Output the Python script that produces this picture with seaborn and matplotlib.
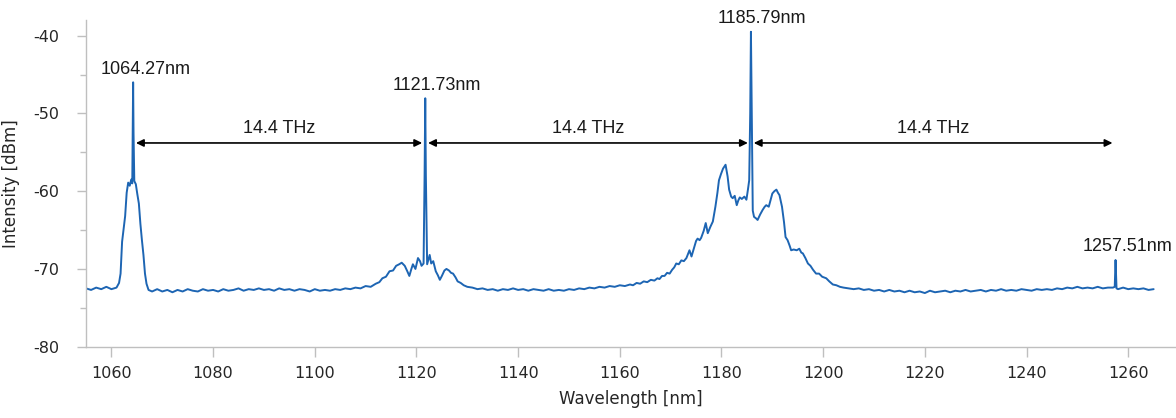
import matplotlib
matplotlib.use("Agg")
import matplotlib.pyplot as plt
import seaborn as sns

# ---------------- data ----------------
wavelength_nm = [
    1055.0, 1056.0, 1057.0, 1058.0, 1059.0, 1060.0, 1061.0, 1061.5, 1061.8, 1062.1,
    1062.4, 1062.7, 1063.0, 1063.3, 1063.6, 1063.9, 1064.1, 1064.2, 1064.27, 1064.35,
    1064.5, 1064.8, 1065.1, 1065.4, 1065.7, 1066.0, 1066.3, 1066.6, 1066.9, 1067.3,
    1068, 1069, 1070, 1071, 1072, 1073, 1074, 1075, 1076, 1077,
    1078, 1079, 1080, 1081, 1082, 1083, 1084, 1085, 1086, 1087,
    1088, 1089, 1090, 1091, 1092, 1093, 1094, 1095, 1096, 1097,
    1098, 1099, 1100, 1101, 1102, 1103, 1104, 1105, 1106, 1107,
    1108, 1109, 1110, 1111, 1112, 1112.7, 1113.3, 1114.0, 1114.7, 1115.4,
    1116.0, 1116.6, 1117.1, 1117.7, 1118.2, 1118.6, 1119.0, 1119.3, 1119.8, 1120.3,
    1120.7, 1121.0, 1121.4, 1121.6, 1121.73, 1121.85, 1122.1, 1122.6, 1122.9, 1123.3,
    1123.8, 1124.2, 1124.6, 1125.0, 1125.5, 1125.9, 1126.4, 1126.8, 1127.2, 1127.7,
    1128.1, 1128.7, 1129.3, 1130.0, 1131, 1132, 1133, 1134, 1135, 1136,
    1137, 1138, 1139, 1140, 1141, 1142, 1143, 1144, 1145, 1146,
    1147, 1148, 1149, 1150, 1151, 1152, 1153, 1154, 1155, 1156,
    1157, 1158, 1159, 1160, 1161, 1162, 1162.6, 1163.3, 1164.0, 1164.7,
    1165.4, 1166.1, 1166.8, 1167.4, 1167.8, 1168.3, 1168.8, 1169.3, 1169.8, 1170.3,
    1170.7, 1171.1, 1171.6, 1172.1, 1172.6, 1173.1, 1173.7, 1174.1, 1174.6, 1175.0,
    1175.3, 1175.7, 1176.0, 1176.5, 1176.9, 1177.3, 1177.8, 1178.3, 1178.8, 1179.2,
    1179.5, 1179.9, 1180.3, 1180.8, 1181.2, 1181.5, 1181.9, 1182.2, 1182.6, 1183.0,
    1183.3, 1183.6, 1184.0, 1184.5, 1184.9, 1185.2, 1185.45, 1185.65, 1185.79, 1185.95,
    1186.15, 1186.4, 1186.8, 1187.1, 1187.6, 1188.1, 1188.5, 1188.8, 1189.3, 1189.7,
    1190.0, 1190.4, 1190.8, 1191.1, 1191.4, 1191.9, 1192.3, 1192.6, 1193.0, 1193.4,
    1193.7, 1194.2, 1194.8, 1195.3, 1195.7, 1196.0, 1196.5, 1197.0, 1197.5, 1198.0,
    1198.6, 1199.2, 1199.8, 1200.6, 1201.2, 1201.9, 1202.6, 1203.3, 1204, 1205,
    1206, 1207, 1208, 1209, 1210, 1211, 1212, 1213, 1214, 1215,
    1216, 1217, 1218, 1219, 1220, 1221, 1222, 1223, 1224, 1225,
    1226, 1227, 1228, 1229, 1230, 1231, 1232, 1233, 1234, 1235,
    1236, 1237, 1238, 1239, 1240, 1241, 1242, 1243, 1244, 1245,
    1246, 1247, 1248, 1249, 1250, 1251, 1252, 1253, 1254, 1255,
    1256, 1257, 1257.35, 1257.51, 1257.7, 1258, 1259, 1260, 1261, 1262,
    1263, 1264, 1265,
]
intensity_dbm = [
    -72.5, -72.7, -72.4, -72.6, -72.3, -72.6, -72.4, -71.8, -70.6, -66.5,
    -64.8, -63.2, -60.2, -58.9, -59.3, -58.5, -59.0, -52.0, -46.0, -52.5,
    -58.7, -59.1, -60.4, -61.6, -64.2, -66.3, -68.2, -70.6, -71.9, -72.7,
    -72.9, -72.6, -72.9, -72.7, -73.0, -72.7, -72.9, -72.6, -72.8, -72.9,
    -72.6, -72.8, -72.7, -72.9, -72.6, -72.8, -72.7, -72.5, -72.8, -72.6,
    -72.7, -72.5, -72.7, -72.6, -72.8, -72.5, -72.7, -72.6, -72.8, -72.6,
    -72.7, -72.9, -72.6, -72.8, -72.7, -72.8, -72.6, -72.7, -72.5, -72.6,
    -72.4, -72.5, -72.2, -72.3, -71.9, -71.7, -71.2, -71.0, -70.3, -70.2,
    -69.6, -69.4, -69.2, -69.6, -70.3, -70.9, -70.0, -69.4, -70.0, -68.6,
    -69.0, -69.6, -69.3, -58.0, -48.05, -58.0, -69.4, -68.2, -69.3, -69.0,
    -70.3, -70.8, -71.4, -70.9, -70.2, -70.0, -70.2, -70.5, -70.6, -71.1,
    -71.6, -71.8, -72.1, -72.3, -72.4, -72.6, -72.5, -72.7, -72.6, -72.8,
    -72.6, -72.7, -72.5, -72.7, -72.6, -72.8, -72.6, -72.7, -72.8, -72.6,
    -72.8, -72.7, -72.8, -72.6, -72.7, -72.5, -72.6, -72.4, -72.5, -72.3,
    -72.4, -72.2, -72.3, -72.1, -72.2, -72.0, -72.1, -71.8, -71.9, -71.6,
    -71.7, -71.4, -71.5, -71.2, -71.3, -70.9, -70.9, -70.5, -70.6, -70.1,
    -69.8, -69.3, -69.4, -68.9, -69.0, -68.6, -67.6, -68.4, -67.3, -66.4,
    -66.1, -66.3, -66.0, -65.1, -64.1, -65.4, -64.6, -63.9, -62.0, -60.2,
    -58.6, -57.8, -57.1, -56.6, -58.1, -59.8, -60.7, -60.9, -60.6, -61.8,
    -61.2, -60.8, -61.0, -60.7, -61.1, -59.8, -58.6, -50.0, -39.5, -50.0,
    -62.5, -63.3, -63.5, -63.7, -63.0, -62.4, -62.0, -61.8, -62.0, -61.0,
    -60.3, -60.0, -59.8, -60.2, -60.5, -62.0, -64.0, -65.9, -66.3, -67.0,
    -67.6, -67.5, -67.6, -67.4, -67.9, -68.0, -68.6, -69.3, -69.6, -70.1,
    -70.6, -70.6, -71.0, -71.2, -71.6, -72.0, -72.1, -72.3, -72.4, -72.5,
    -72.6, -72.5, -72.7, -72.6, -72.8, -72.7, -72.9, -72.7, -72.9, -72.8,
    -73.0, -72.8, -73.0, -72.9, -73.1, -72.8, -73.0, -72.9, -72.8, -73.0,
    -72.8, -72.9, -72.7, -72.9, -72.8, -72.7, -72.9, -72.7, -72.8, -72.6,
    -72.8, -72.7, -72.8, -72.6, -72.7, -72.8, -72.6, -72.7, -72.6, -72.7,
    -72.5, -72.6, -72.4, -72.5, -72.3, -72.5, -72.4, -72.5, -72.3, -72.5,
    -72.4, -72.4, -72.3, -68.85, -72.5, -72.6, -72.4, -72.6, -72.5, -72.6,
    -72.5, -72.7, -72.6,
]

peak_wl = [1064.27, 1121.73, 1185.79, 1257.51]
peak_dbm = [-46.0, -48.05, -39.5, -68.85]
peak_labels = ["1064.27nm", "1121.73nm", "1185.79nm", "1257.51nm"]
spacing_labels = ["14.4 THz", "14.4 THz", "14.4 THz"]
arrow_level_dbm = -53.8
spacing_text_dbm = -51.9

x_ticks = [1060, 1080, 1100, 1120, 1140, 1160, 1180, 1200, 1220, 1240, 1260]
y_ticks = [-80, -70, -60, -50, -40]
y_minor_ticks = [-75, -65, -55, -45]

# ---------------- style ----------------
sns.set_theme(style="white")
plt.rcParams["font.family"] = ["DejaVu Sans"]
plt.rcParams["axes.unicode_minus"] = False

LINE = "#1d65b3"
GRID = "#bfbfbf"
TEXT = "#262626"

W, H = 1176, 418
fig = plt.figure(figsize=(W / 100, H / 100), dpi=100)
ax = fig.add_axes([86 / W, 71.3 / H, 1090 / W, 326.6 / H])

sns.lineplot(x=wavelength_nm, y=intensity_dbm, ax=ax, color=LINE,
             linewidth=1.4, sort=False, estimator=None)

ax.set_xlim(1055, 1269.4)
ax.set_ylim(-80, -38)
ax.set_xticks(x_ticks)
ax.set_yticks(y_ticks)
ax.set_yticks(y_minor_ticks, minor=True)

for s in ["top", "right"]:
    ax.spines[s].set_visible(False)
for s in ["left", "bottom"]:
    ax.spines[s].set_color(GRID)
    ax.spines[s].set_linewidth(1.0)

ax.tick_params(axis="x", which="major", direction="out", length=7.2, width=1,
               color=GRID, labelcolor=TEXT, labelsize=11.5, pad=7, bottom=True)
ax.tick_params(axis="y", which="major", direction="out", length=6.5, width=1,
               color=GRID, labelcolor=TEXT, labelsize=11.5, pad=13, left=True)
ax.tick_params(axis="y", which="minor", direction="out", length=4.3, width=1,
               color=GRID, left=True)

ax.set_xlabel("Wavelength [nm]", fontsize=12, color=TEXT, labelpad=6)
ax.set_ylabel("Intensity [dBm]", fontsize=12, color=TEXT, labelpad=9)

# peak labels (number part centered on the peak)
for x, y, lab in zip(peak_wl, peak_dbm, peak_labels):
    ax.annotate(lab, xy=(x, y), xytext=(-33, 13), textcoords="offset pixels",
                ha="left", va="center", fontsize=13, color="#1a1a1a",
                family=["Liberation Sans", "DejaVu Sans"], annotation_clip=False)

# double-headed spacing arrows with labels
for i, lab in enumerate(spacing_labels):
    x0 = peak_wl[i] + 0.55
    x1 = peak_wl[i + 1] - 0.6
    ax.annotate("", xy=(x1, arrow_level_dbm), xytext=(x0, arrow_level_dbm),
                arrowprops=dict(arrowstyle="<|-|>,head_length=0.45,head_width=0.22",
                                color="black", lw=1.2, shrinkA=0, shrinkB=0,
                                mutation_scale=10))
    ax.text((x0 + x1) / 2, spacing_text_dbm, lab, ha="center", va="center",
            fontsize=13, color="#1a1a1a", family=["Liberation Sans", "DejaVu Sans"])

fig.savefig("out.png", dpi=100)
